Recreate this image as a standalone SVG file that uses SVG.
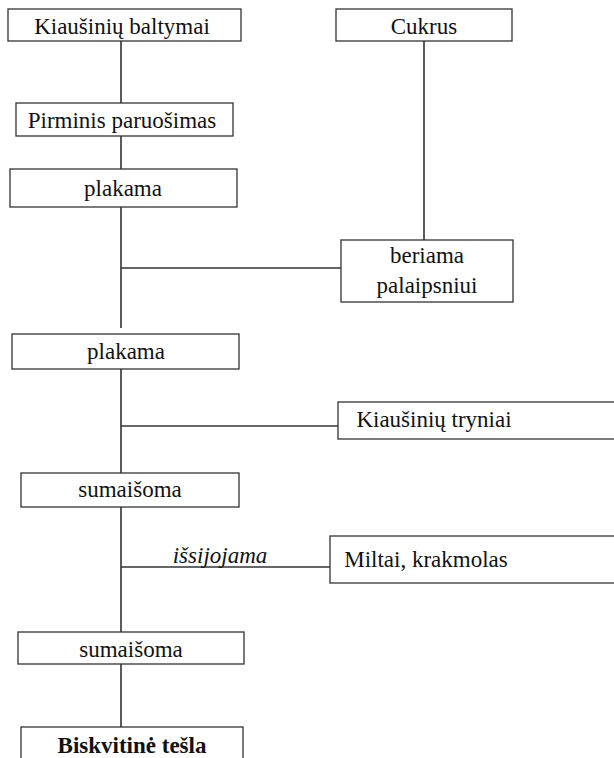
<svg xmlns="http://www.w3.org/2000/svg" width="614" height="758" viewBox="0 0 614 758">
  <rect width="614" height="758" fill="#ffffff"/>

  <!-- connectors: one trunk down the left, side feeds coming in from the right -->
  <g id="connectors" stroke="#333333" stroke-width="1.6" fill="none">
    <line x1="121" y1="41" x2="121" y2="103"/>
    <line x1="121" y1="136" x2="121" y2="169"/>
    <line x1="121" y1="207" x2="121" y2="328"/>
    <line x1="121" y1="369" x2="121" y2="473"/>
    <line x1="121" y1="507" x2="121" y2="632"/>
    <line x1="121" y1="664" x2="121" y2="727"/>
    <line x1="424" y1="41" x2="424" y2="240"/>
    <line x1="121" y1="268" x2="341" y2="268"/>
    <line x1="121" y1="426" x2="338" y2="426"/>
    <line x1="121" y1="567" x2="330" y2="567"/>
  </g>
  <text x="220" y="563" style="font-family:'Times New Roman','Liberation Serif',serif;font-size:23px;font-style:italic" text-anchor="middle" fill="#111111">išsijojama</text>

  <g style="font-family:'Times New Roman','Liberation Serif',serif;font-size:23px" text-anchor="middle" fill="#111111">
    <g id="baltymai">
      <rect x="8" y="9" width="233" height="32" fill="#ffffff" stroke="#333333" stroke-width="1.3"/>
      <text x="122" y="34">Kiaušinių baltymai</text>
    </g>
    <g id="cukrus">
      <rect x="336" y="9" width="176" height="32" fill="#ffffff" stroke="#333333" stroke-width="1.3"/>
      <text x="424" y="34">Cukrus</text>
    </g>
    <g id="paruosimas">
      <rect x="16" y="103" width="217" height="33" fill="#ffffff" stroke="#333333" stroke-width="1.3"/>
      <text x="122" y="128">Pirminis paruošimas</text>
    </g>
    <g id="plakama1">
      <rect x="10" y="169" width="227" height="38" fill="#ffffff" stroke="#333333" stroke-width="1.3"/>
      <text x="123" y="196">plakama</text>
    </g>
    <g id="beriama">
      <rect x="341" y="240" width="172" height="62" fill="#ffffff" stroke="#333333" stroke-width="1.3"/>
      <text x="427" y="263">beriama</text>
      <text x="427" y="293">palaipsniui</text>
    </g>
    <g id="plakama2">
      <rect x="12" y="334" width="227" height="35" fill="#ffffff" stroke="#333333" stroke-width="1.3"/>
      <text x="126" y="359">plakama</text>
    </g>
    <g id="tryniai">
      <rect x="338" y="402" width="300" height="37" fill="#ffffff" stroke="#333333" stroke-width="1.3"/>
      <text x="434" y="427">Kiaušinių tryniai</text>
    </g>
    <g id="sumaisoma1">
      <rect x="21" y="473" width="218" height="34" fill="#ffffff" stroke="#333333" stroke-width="1.3"/>
      <text x="130" y="497">sumaišoma</text>
    </g>
    <g id="miltai">
      <rect x="330" y="536" width="310" height="47" fill="#ffffff" stroke="#333333" stroke-width="1.3"/>
      <text x="426" y="567">Miltai, krakmolas</text>
    </g>
    <g id="sumaisoma2">
      <rect x="18" y="632" width="226" height="32" fill="#ffffff" stroke="#333333" stroke-width="1.3"/>
      <text x="131" y="657">sumaišoma</text>
    </g>
    <g id="tesla">
      <rect x="21" y="727" width="222" height="45" fill="#ffffff" stroke="#333333" stroke-width="1.3"/>
      <text x="132" y="753" style="font-weight:bold">Biskvitinė tešla</text>
    </g>
  </g>
</svg>
